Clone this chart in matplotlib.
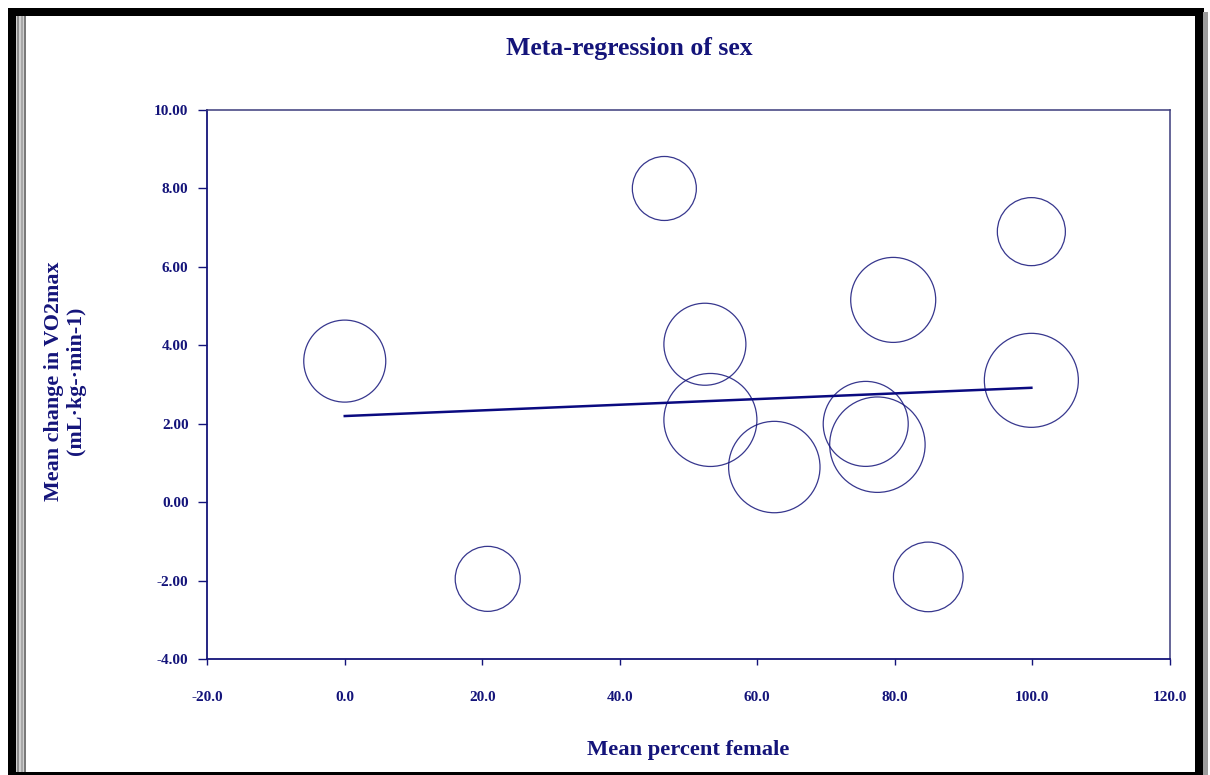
import numpy as np
import matplotlib.pyplot as plt
from matplotlib.patches import Rectangle

# Study-level data: percent female, mean change in VO2max, relative weight (%)
pct_female = [0.0, 20.8, 46.5, 52.4, 53.2, 62.5, 75.8, 77.5, 79.8, 99.9, 99.9, 84.9]
vo2_change = [3.60, -1.95, 8.00, 4.03, 2.10, 0.90, 2.00, 1.47, 5.16, 6.90, 3.11, -1.90]
weights = [8.34, 5.24, 5.08, 8.34, 10.73, 10.36, 8.96, 11.29, 8.96, 5.74, 10.96, 6.01]

# Fitted meta-regression line
fit_x = [0.0, 99.9]
fit_y = [2.20, 2.92]

x_ticks = [-20, 0, 20, 40, 60, 80, 100, 120]
y_ticks = [-4, -2, 0, 2, 4, 6, 8, 10]

navy = "#14147a"
plt.rcParams["font.family"] = ["Liberation Serif", "DejaVu Serif"]
plt.rcParams["font.weight"] = "bold"

fig = plt.figure(figsize=(12.1, 7.75), dpi=100)
W, H = 1210, 775


def frame_rect(x0, y0, x1, y1, color):
    # rectangle given in pixel coords measured from the top-left corner
    fig.patches.append(Rectangle((x0 / W, 1 - y1 / H), (x1 - x0) / W, (y1 - y0) / H,
                                 transform=fig.transFigure, color=color, lw=0, zorder=-5))


# Window-style border round the chart
frame_rect(8, 8, 1204, 16, "black")
frame_rect(8, 8, 16, 775, "black")
frame_rect(16, 16, 26, 775, "#d0d0d0")
frame_rect(17, 16, 19, 775, "#8c8c8c")
frame_rect(21, 16, 23, 775, "#a8a8a8")
frame_rect(24, 16, 26, 775, "#7a7a7a")
frame_rect(1195, 8, 1203, 775, "black")
frame_rect(1203, 12, 1208, 775, "#9c9c9c")
frame_rect(8, 772, 1203, 775, "black")

ax = fig.add_axes([207.3 / W, 1 - 659.3 / H, 962.2 / W, 549.3 / H])

ax.scatter(pct_female, vo2_change, s=np.array(weights) * 418,
           facecolors="none", edgecolors=navy, linewidths=0.9, alpha=0.85, zorder=2)
ax.plot(fit_x, fit_y, color="#0a0a80", lw=1.8, zorder=3)

ax.set_xlim(-20, 120)
ax.set_ylim(-4, 10)
ax.set_xticks(x_ticks)
ax.set_yticks(y_ticks)
ax.set_xticklabels([f"{v:.1f}" for v in x_ticks])
ax.set_yticklabels([f"{v:.2f}" for v in y_ticks])
ax.tick_params(axis="x", direction="out", length=4.5, width=1, color=navy,
               labelcolor=navy, labelsize=11, pad=18.5)
ax.tick_params(axis="y", direction="out", length=6.5, width=1, color=navy,
               labelcolor=navy, labelsize=11, pad=7)
for side in ["left", "bottom"]:
    ax.spines[side].set_color(navy)
    ax.spines[side].set_linewidth(1.3)
for side in ["top", "right"]:
    ax.spines[side].set_color("#3c3c7c")
    ax.spines[side].set_linewidth(1.1)

fig.text(629 / W, 1 - 48 / H, "Meta-regression of sex", ha="center", va="center",
         fontsize=18.5, fontweight="bold", color=navy)
fig.text(688 / W, 1 - 750 / H, "Mean percent female", ha="center", va="center",
         fontsize=16.2, fontweight="bold", color=navy)
fig.text(65 / W, 1 - 381 / H, "Mean change in VO2max\n(mL·kg-·min-1)", ha="center",
         va="center", rotation=90, fontsize=15.8, fontweight="bold", color=navy,
         linespacing=1.15)

fig.savefig("out.png", dpi=100)
